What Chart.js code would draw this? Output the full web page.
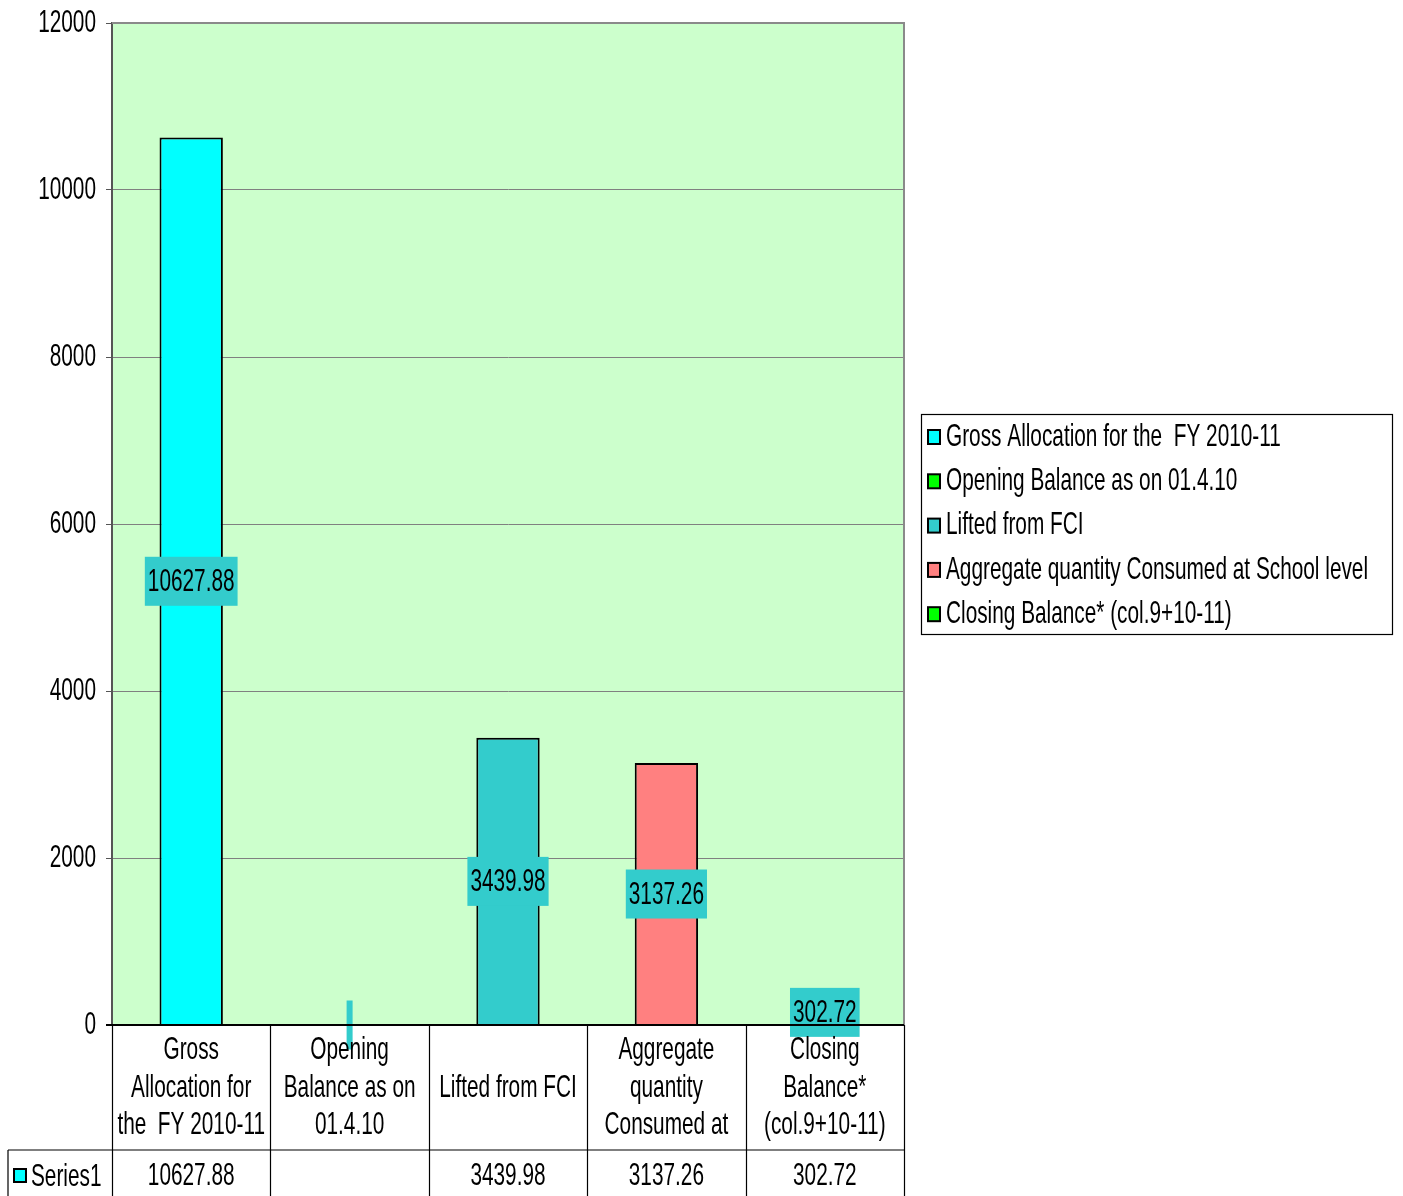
<!DOCTYPE html>
<html>
<head>
<meta charset="utf-8">
<script src="https://cdn.jsdelivr.net/npm/chart.js@4.4.1/dist/chart.umd.min.js"></script>
<style>
  html, body { margin: 0; padding: 0; background: #fff; }
  #wrap { width: 1403px; height: 1196px; }
</style>
</head>
<body>
<div id="wrap"><canvas id="chart" width="1403" height="1196"></canvas></div>
<script>
const categories = [
  "Gross Allocation for the  FY 2010-11",
  "Opening Balance as on 01.4.10",
  "Lifted from FCI",
  "Aggregate quantity Consumed at School level",
  "Closing Balance* (col.9+10-11)",
];
const tableLabels = [
  ["Gross", "Allocation for", "the  FY 2010-11"],
  ["Opening", "Balance as on", "01.4.10"],
  ["Lifted from FCI"],
  ["Aggregate", "quantity", "Consumed at"],
  ["Closing", "Balance*", "(col.9+10-11)"],
];
const seriesName = "Series1";
const values = [10627.88, null, 3439.98, 3137.26, 302.72];
const valueLabels = ["10627.88", "", "3439.98", "3137.26", "302.72"];
const barColors = ["#00FFFF", "#00FF00", "#33CCCC", "#FF8080", "#00FF00"];
const yTicks = [0, 2000, 4000, 6000, 8000, 10000, 12000];

const FONT = '"Liberation Sans", Arial, sans-serif';
const FS = 32;
const SQUEEZE = 0.65; // text in the original is tall and narrow

function narrowText(ctx, txt, x, y, align) {
  ctx.save();
  ctx.font = `${FS}px ${FONT}`;
  ctx.textBaseline = "middle";
  ctx.textAlign = align || "center";
  ctx.translate(x, y);
  ctx.scale(SQUEEZE, 1);
  ctx.fillStyle = "#000";
  ctx.fillText(txt, 0, 0);
  ctx.restore();
}

function narrowWidth(ctx, txt) {
  ctx.save();
  ctx.font = `${FS}px ${FONT}`;
  const w = ctx.measureText(txt).width * SQUEEZE;
  ctx.restore();
  return w;
}

const plotBackground = {
  id: "plotBackground",
  beforeDraw(chart) {
    const { ctx, chartArea: a } = chart;
    ctx.save();
    ctx.fillStyle = "#CCFFCC";
    ctx.fillRect(a.left, a.top, a.right - a.left, a.bottom - a.top);
    ctx.restore();
  },
};

const valueBoxes = {
  id: "valueBoxes",
  afterDatasetsDraw(chart) {
    const { ctx, scales } = chart;
    valueLabels.forEach((txt, i) => {
      const x = scales.x.getPixelForValue(i);
      const v = values[i] == null ? 0 : values[i];
      const y = (scales.y.getPixelForValue(v) + scales.y.getPixelForValue(0)) / 2;
      const w = narrowWidth(ctx, txt) + 6;
      const h = 49;
      ctx.save();
      ctx.fillStyle = "#33CCCC";
      ctx.fillRect(x - w / 2, y - h / 2, w, h);
      ctx.restore();
      if (txt) narrowText(ctx, txt, x, y + 1);
    });
  },
};

const dataTable = {
  id: "dataTable",
  afterDraw(chart) {
    const { ctx, chartArea: a, scales } = chart;
    const x = scales.x;
    const y = scales.y;
    const colW = (a.right - a.left) / categories.length;
    const rowTop = a.bottom;
    const rowMid = 1150;
    const rowEnd = chart.height;

    // y tick labels
    y.ticks.forEach((t) => narrowText(ctx, String(t.value), 96, y.getPixelForValue(t.value), "right"));

    ctx.save();
    // plot frame top/right
    ctx.strokeStyle = "#8a8a8a";
    ctx.lineWidth = 2;
    ctx.beginPath();
    ctx.moveTo(a.left, a.top);
    ctx.lineTo(a.right, a.top);
    ctx.lineTo(a.right, a.bottom);
    ctx.stroke();
    // table lines
    ctx.strokeStyle = "#000";
    ctx.lineWidth = 2;
    ctx.beginPath();
    ctx.moveTo(a.left - 6, rowTop);
    ctx.lineTo(a.right, rowTop);
    ctx.stroke();
    ctx.lineWidth = 1.2;
    ctx.beginPath();
    ctx.moveTo(8, rowMid);
    ctx.lineTo(a.right, rowMid);
    ctx.moveTo(8, rowMid);
    ctx.lineTo(8, rowEnd);
    for (let i = 0; i <= categories.length; i++) {
      const px = Math.round(a.left + i * colW) + 0.5;
      ctx.moveTo(px, rowTop);
      ctx.lineTo(px, rowEnd);
    }
    ctx.stroke();
    ctx.restore();

    tableLabels.forEach((lines, i) => {
      const cx = x.getPixelForValue(i);
      const lh = 37.5;
      const start = 1088 - (lines.length - 1) * lh / 2;
      lines.forEach((ln, j) => narrowText(ctx, ln, cx, start + j * lh));
      if (valueLabels[i]) narrowText(ctx, valueLabels[i], cx, 1176);
    });

    // series key
    ctx.save();
    ctx.fillStyle = "#00FFFF";
    ctx.fillRect(14, 1169, 12, 13);
    ctx.strokeStyle = "#000";
    ctx.lineWidth = 2;
    ctx.strokeRect(14, 1169, 12, 13);
    ctx.restore();
    narrowText(ctx, seriesName, 31, 1177, "left");

    // legend
    ctx.save();
    ctx.strokeStyle = "#000";
    ctx.lineWidth = 1.2;
    ctx.strokeRect(921.5, 414.5, 471, 220);
    categories.forEach((name, i) => {
      const ly = 437 + i * 44.3;
      ctx.fillStyle = barColors[i];
      ctx.fillRect(928, ly - 7, 12, 14);
      ctx.strokeStyle = "#000";
      ctx.lineWidth = 2;
      ctx.strokeRect(928, ly - 7, 12, 14);
      narrowText(ctx, name, 946, ly, "left");
    });
    ctx.restore();
  },
};

new Chart(document.getElementById("chart"), {
  type: "bar",
  data: {
    labels: categories,
    datasets: [
      {
        label: seriesName,
        data: values,
        backgroundColor: barColors,
        borderColor: "#000",
        borderWidth: 2,
        barPercentage: 0.4,
        categoryPercentage: 1,
      },
    ],
  },
  options: {
    responsive: false,
    animation: false,
    layout: { padding: { top: 23, right: 499, bottom: 171, left: 0 } },
    scales: {
      x: { display: false },
      y: {
        min: 0,
        max: 12000,
        afterFit: (s) => { s.width = 112; },
        afterBuildTicks: (s) => { s.ticks = yTicks.map((v) => ({ value: v })); },
        ticks: { display: false },
        grid: { color: "#808080", lineWidth: 1, tickLength: 6, tickColor: "#555" },
        border: { color: "#555", width: 2 },
      },
    },
    plugins: { legend: { display: false }, tooltip: { enabled: false } },
  },
  plugins: [plotBackground, valueBoxes, dataTable],
});
</script>
</body>
</html>
